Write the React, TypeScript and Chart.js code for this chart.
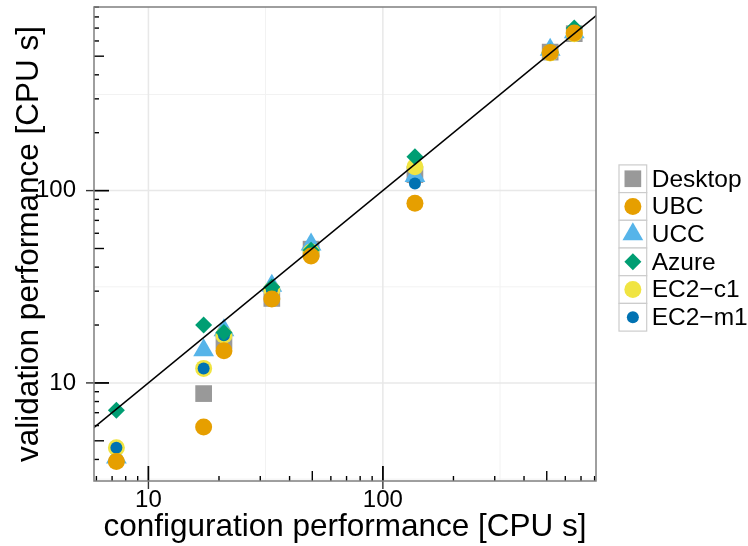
import React, { useEffect, useRef } from "react";
import { Chart, registerables } from "chart.js";
import { drawPoint } from "chart.js/helpers";

Chart.register(...registerables);

// ---- data ----
const machines = ["Desktop", "UBC", "UCC", "Azure", "EC2\u2212c1", "EC2\u2212m1"];
const configPerf = [7.3, 17.2, 21.0, 33.6, 49.4, 137, 517, 655];
const desktopVals = [null, 8.8, 16.5, 27.5, 49.6, 121, 525, 655];
const ubcVals = [3.9, 5.9, 14.7, 27.3, 45.7, 86, 523, 660];
const uccVals = [4.1, 14.8, 18.8, 32, 52.5, 119, 540, 665];
const azureVals = [7.2, 20.0, 18.3, 31.5, 49, 150, 525, 700];
const ec2c1Vals = [4.6, 11.9, 17.7, 30.4, 48, 133, 520, 655];
const ec2m1Vals = [4.6, 11.9, 17.7, 30.4, 48, 109, 520, 655];
const seriesVals = [desktopVals, ubcVals, uccVals, azureVals, ec2c1Vals, ec2m1Vals];

const majorBreaks = [10, 100];
const minorBreaks = [3.16, 31.6, 316];
const xLimits = [5.86, 811];
const yLimits = [3.09, 901];
const identityLine = [1, 1000];

// ---- style ----
const colors = ["#999999", "#E69F00", "#56B4E9", "#009E73", "#F0E442", "#0072B2"];
const shapes = ["rect", "circle", "triangle", "rectRot", "circle", "circle"];
const radii = [11.8, 8.5, 12, 8.5, 8.5, 6];
const drawOrder = [5, 0, 4, 1, 3, 2]; // lower draws on top
const FONT = "'Liberation Sans', Arial, Helvetica, sans-serif";

const themePlugin = {
  id: "ggtheme",
  beforeDatasetsDraw(chart: any) {
    const { ctx, chartArea: a, scales } = chart;
    const xs = scales.x, ys = scales.y;
    ctx.save();
    ctx.strokeStyle = "#f2f2f2";
    ctx.lineWidth = 1;
    minorBreaks.forEach((v) => {
      const px = xs.getPixelForValue(v);
      if (px > a.left && px < a.right) {
        ctx.beginPath(); ctx.moveTo(px, a.top); ctx.lineTo(px, a.bottom); ctx.stroke();
      }
      const py = ys.getPixelForValue(v);
      if (py > a.top && py < a.bottom) {
        ctx.beginPath(); ctx.moveTo(a.left, py); ctx.lineTo(a.right, py); ctx.stroke();
      }
    });
    ctx.strokeStyle = "#e8e8e8";
    ctx.lineWidth = 1.5;
    majorBreaks.forEach((v) => {
      const px = xs.getPixelForValue(v);
      ctx.beginPath(); ctx.moveTo(px, a.top); ctx.lineTo(px, a.bottom); ctx.stroke();
      const py = ys.getPixelForValue(v);
      ctx.beginPath(); ctx.moveTo(a.left, py); ctx.lineTo(a.right, py); ctx.stroke();
    });
    ctx.restore();
  },
  afterDatasetsDraw(chart: any) {
    const { ctx, chartArea: a, scales } = chart;
    const xs = scales.x, ys = scales.y;
    ctx.save();
    ctx.strokeStyle = "#000";
    ctx.lineWidth = 1.4;
    for (let d = 1; d <= 100; d *= 10) {
      for (let k = 1; k <= 10; k++) {
        const v = d * k;
        const len = k === 1 || k === 10 ? 15 : k === 5 ? 10 : 5;
        if (v >= xLimits[0] && v <= xLimits[1]) {
          const px = xs.getPixelForValue(v);
          ctx.beginPath(); ctx.moveTo(px, a.bottom); ctx.lineTo(px, a.bottom - len); ctx.stroke();
        }
        if (v >= yLimits[0] && v <= yLimits[1]) {
          const py = ys.getPixelForValue(v);
          ctx.beginPath(); ctx.moveTo(a.left, py); ctx.lineTo(a.left + len, py); ctx.stroke();
        }
      }
    }
    ctx.strokeStyle = "#333333";
    ctx.lineWidth = 1.4;
    majorBreaks.forEach((v) => {
      const px = xs.getPixelForValue(v);
      ctx.beginPath(); ctx.moveTo(px, a.bottom); ctx.lineTo(px, a.bottom + 8); ctx.stroke();
      const py = ys.getPixelForValue(v);
      ctx.beginPath(); ctx.moveTo(a.left, py); ctx.lineTo(a.left - 8, py); ctx.stroke();
    });
    ctx.strokeStyle = "#7f7f7f";
    ctx.lineWidth = 1.5;
    ctx.strokeRect(a.left, a.top, a.right - a.left, a.bottom - a.top);
    ctx.restore();
  },
  afterDraw(chart: any) {
    const { ctx, chartArea: a } = chart;
    const key = 27.7;
    const left = a.right + 23;
    const top = (a.top + a.bottom) / 2 - (key * machines.length) / 2 + 4;
    ctx.save();
    machines.forEach((name, i) => {
      const y0 = top + i * key;
      ctx.fillStyle = "#ffffff";
      ctx.fillRect(left, y0, key, key);
      ctx.strokeStyle = "#cccccc";
      ctx.lineWidth = 1.2;
      ctx.strokeRect(left, y0, key, key);
      ctx.fillStyle = colors[i];
      drawPoint(ctx, { pointStyle: shapes[i], radius: radii[i], rotation: 0, borderWidth: 0 } as any, left + key / 2, y0 + key / 2);
      ctx.fillStyle = "#000000";
      ctx.font = "24.5px " + FONT;
      ctx.textAlign = "left";
      ctx.textBaseline = "middle";
      ctx.fillText(name, left + key + 5, y0 + key / 2 + 1);
    });
    ctx.restore();
  },
};

export default function App() {
  const ref = useRef<HTMLCanvasElement>(null);
  useEffect(() => {
    if (!ref.current) return;
    Chart.defaults.font.family = FONT;
    const datasets: any[] = seriesVals.map((vals, i) => ({
      type: "scatter",
      label: machines[i],
      data: configPerf
        .map((x, j) => ({ x, y: vals[j] }))
        .filter((p) => p.y !== null),
      backgroundColor: colors[i],
      borderWidth: 0,
      pointStyle: shapes[i],
      pointRadius: radii[i],
      pointHoverRadius: radii[i],
      order: drawOrder[i],
    }));
    datasets.push({
      type: "line",
      label: "identity",
      data: identityLine.map((v) => ({ x: v, y: v })),
      borderColor: "#000000",
      borderWidth: 1.6,
      pointRadius: 0,
      fill: false,
      order: -1,
    });
    const chart = new Chart(ref.current, {
      type: "scatter",
      data: { datasets },
      options: {
        animation: false,
        responsive: false,
        layout: { autoPadding: false, padding: { top: 7, right: 152, left: 0, bottom: 0 } },
        plugins: { legend: { display: false }, tooltip: { enabled: false } },
        scales: {
          x: {
            type: "logarithmic",
            position: "bottom",
            min: xLimits[0],
            max: xLimits[1],
            grid: { display: false },
            border: { display: false },
            afterBuildTicks: (s: any) => { s.ticks = majorBreaks.map((v) => ({ value: v })); },
            afterFit: (s: any) => { s.height = 65; s.paddingLeft = 0; s.paddingRight = 0; },
            ticks: {
              autoSkip: false,
              maxRotation: 0,
              padding: -3,
              color: "#000000",
              font: { size: 24, family: FONT },
              callback: (v: any) => String(v),
            },
            title: {
              display: true,
              text: "configuration performance [CPU s]",
              color: "#000000",
              font: { size: 31.5, family: FONT },
              padding: { top: 0, bottom: 0 },
            },
          },
          y: {
            type: "logarithmic",
            position: "left",
            min: yLimits[0],
            max: yLimits[1],
            grid: { display: false },
            border: { display: false },
            afterBuildTicks: (s: any) => { s.ticks = majorBreaks.map((v) => ({ value: v })); },
            afterFit: (s: any) => { s.width = 94; s.paddingTop = 0; s.paddingBottom = 0; },
            ticks: {
              autoSkip: false,
              padding: 10,
              color: "#000000",
              font: { size: 24, family: FONT },
              callback: (v: any) => String(v),
            },
            title: {
              display: true,
              text: "validation performance [CPU s]",
              color: "#000000",
              font: { size: 31.5, family: FONT },
              padding: { top: 10, bottom: 0 },
            },
          },
        },
      },
      plugins: [themePlugin],
    } as any);
    return () => chart.destroy();
  }, []);
  return (
    <div style={{ position: "fixed", left: 0, top: 0, width: 748, height: 546, background: "#ffffff" }}>
      <canvas ref={ref} width={748} height={546} style={{ width: 748, height: 546, display: "block" }} />
    </div>
  );
}
